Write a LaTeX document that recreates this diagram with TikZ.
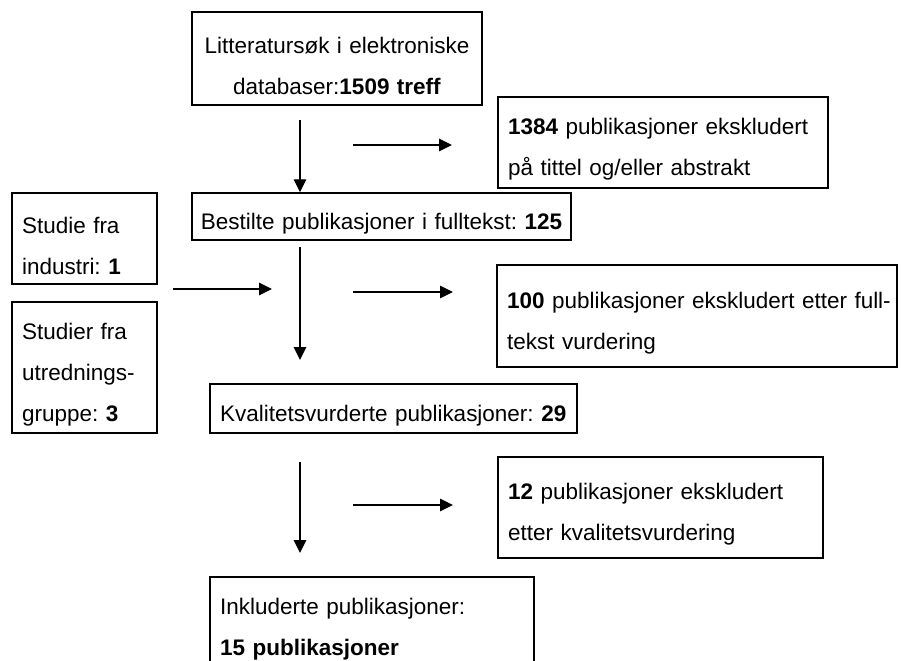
\documentclass[tikz,border=0pt]{standalone}
\usepackage{fontspec}
\setmainfont{Liberation Sans}
\usepackage{tikz}
\usetikzlibrary{arrows.meta, positioning}
\frenchspacing

\begin{document}
\begin{tikzpicture}[x=0.02cm, y=-0.02cm,
    box/.style={draw, line width=0.85pt, inner xsep=0.2cm, inner ysep=0pt,
      font=\fontsize{12.8pt}{23.4pt}\selectfont,
      execute at begin node={\rule{0pt}{0.61cm}}},
    arr/.style={line width=0.75pt, -{Triangle[length=0.26cm, width=0.25cm]}}]
  \useasboundingbox (0, 0) rectangle (901, 661);
  \clip (0, 0) rectangle (901, 661);

  % Main column
  \node[box, minimum width=5.8cm, minimum height=1.86cm, text width=5.4cm, align=center]
    (search) at (337, 58.5) {Litteratursøk i elektroniske\\databaser:\textbf{1509 treff}};
  \node[box, inner xsep=0.08cm, minimum width=7.58cm, minimum height=0.94cm, text width=7.42cm, align=center]
    (ordered) at (381.5, 216.5) {Bestilte publikasjoner i fulltekst: \textbf{125}};
  \node[box, minimum width=7.34cm, minimum height=0.98cm, text width=6.94cm, align=left]
    (quality) at (393.5, 408.5) {Kvalitetsvurderte publikasjoner: \textbf{29}};
  \node[box, minimum width=6.48cm, minimum height=1.82cm, text width=6.08cm, align=left]
    (included) at (372, 622.5) {Inkluderte publikasjoner:\\\textbf{15 publikasjoner}};

  % Excluded
  \node[box, minimum width=6.6cm, minimum height=1.82cm, text width=6.2cm, align=left]
    (excl1) at (663, 142.5) {\textbf{1384} publikasjoner ekskludert\\på tittel og/eller abstrakt};
  \node[box, minimum width=8cm, minimum height=2.04cm, text width=7.6cm, align=left]
    (excl2) at (697, 316) {\mbox{\textbf{100} publikasjoner ekskludert etter full-}\\tekst vurdering};
  \node[box, minimum width=6.5cm, minimum height=2.02cm, text width=6.1cm, align=left]
    (excl3) at (660.5, 507.5) {\textbf{12} publikasjoner ekskludert\\etter kvalitetsvurdering};

  % Other sources
  \node[box, minimum width=2.9cm, minimum height=1.82cm, text width=2.5cm, align=left]
    (industry) at (84.5, 238.5) {Studie fra\\industri: \textbf{1}};
  \node[box, minimum width=2.9cm, minimum height=2.62cm, text width=2.5cm, align=left]
    (groups) at (84.5, 367.5) {Studier fra\\utrednings-\\gruppe: \textbf{3}};

  % Arrows
  \coordinate (down1) at (300, 120);
  \coordinate (down2) at (300, 247);
  \coordinate (down3) at (300, 462);
  \draw[arr] (down1) -- (down1 |- ordered.north);
  \draw[arr] (down2) -- (300, 360);
  \draw[arr] (down3) -- (300, 553);

  \coordinate (side1) at (353, 145);
  \coordinate (side2) at (353, 292);
  \coordinate (side3) at (353, 505);
  \draw[arr] (side1) -- ++(99, 0);
  \draw[arr] (side2) -- ++(100, 0);
  \draw[arr] (side3) -- ++(100, 0);

  \coordinate (extra) at (173, 289);
  \draw[arr] (extra) -- (272, 289);
\end{tikzpicture}
\end{document}
